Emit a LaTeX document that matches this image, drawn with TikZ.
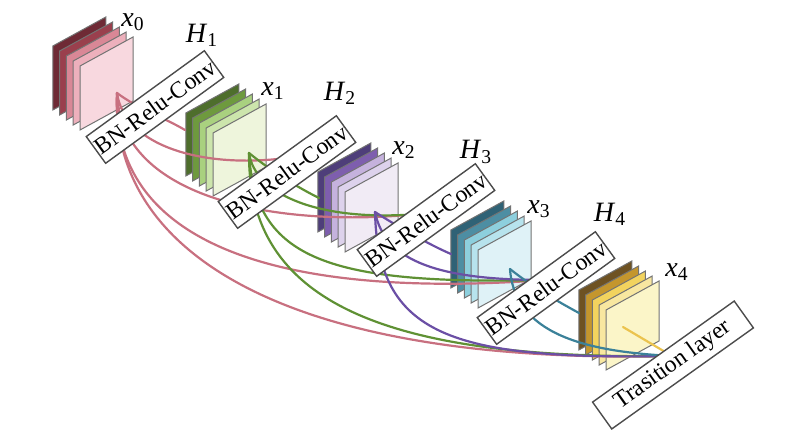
\documentclass[tikz,border=0pt]{standalone}
\usepackage{fontspec}
\setmainfont{Liberation Serif}
\usetikzlibrary{calc}

\definecolor{rs1}{HTML}{6E2A35}\definecolor{rs2}{HTML}{9A3F4D}\definecolor{rs3}{HTML}{D98796}\definecolor{rs4}{HTML}{EDB0BC}\definecolor{rs5}{HTML}{F8D8DF}
\definecolor{vd1}{HTML}{4E6E2C}\definecolor{vd2}{HTML}{6E9A3E}\definecolor{vd3}{HTML}{A9D17F}\definecolor{vd4}{HTML}{CCE5AC}\definecolor{vd5}{HTML}{EEF5DC}
\definecolor{rx1}{HTML}{4E3E7A}\definecolor{rx2}{HTML}{7E5EAE}\definecolor{rx3}{HTML}{C5B2DD}\definecolor{rx4}{HTML}{DDD2EC}\definecolor{rx5}{HTML}{F1EBF5}
\definecolor{az1}{HTML}{2F6276}\definecolor{az2}{HTML}{4D8EA3}\definecolor{az3}{HTML}{8DCFDD}\definecolor{az4}{HTML}{B7E3ED}\definecolor{az5}{HTML}{DFF2F7}
\definecolor{ou1}{HTML}{6E5222}\definecolor{ou2}{HTML}{C4962D}\definecolor{ou3}{HTML}{F2D35E}\definecolor{ou4}{HTML}{F8E7A0}\definecolor{ou5}{HTML}{FBF5C8}
\definecolor{lrosa}{HTML}{C87080}\definecolor{lverde}{HTML}{5F9134}\definecolor{lroxo}{HTML}{6B4FA5}
\definecolor{lazul}{HTML}{3B8199}\definecolor{louro}{HTML}{EBC34E}

% pilha de mapas: nome, canto, altura, cores de tras para frente
\newcommand{\pilha}[8]{%
  \foreach \k/\c in {4/#4,3/#5,2/#6,1/#7,0/#8}
    \filldraw[folha,fill=\c] ($(#2)-(6.8*\k,5*\k)$) -- ++(53,-29) -- ++(0,#3) -- ++(-53,29) -- cycle;
  \coordinate (#1) at (#2);
}

\begin{document}
\begin{tikzpicture}[x=0.5pt,y=-0.5pt,
  folha/.style={draw=black!55,line width=0.5pt},
  caixa/.style={draw=black!70,fill=white,line width=0.7pt,minimum width=73pt,minimum height=16.5pt,inner sep=0pt,font=\fontsize{11.8}{13}\selectfont},
  rotulo/.style={inner sep=0pt,font=\fontsize{14}{16}\selectfont},
  liga/.style={line width=1.1pt,line cap=round},
  rosa/.style={liga,draw=lrosa}, verde/.style={liga,draw=lverde}, roxo/.style={liga,draw=lroxo},
  azul/.style={liga,draw=lazul}, ouro/.style={liga,draw=louro}]
  \useasboundingbox (0,0) rectangle (800,435);
  % Nodes
  \pilha{x0}{80,66}{64}{rs1}{rs2}{rs3}{rs4}{rs5}
  \pilha{x1}{213,133}{63}{vd1}{vd2}{vd3}{vd4}{vd5}
  \pilha{x2}{345,192}{60}{rx1}{rx2}{rx3}{rx4}{rx5}
  \pilha{x3}{478,250}{58}{az1}{az2}{az3}{az4}{az5}
  \pilha{x4}{606,310}{60}{ou1}{ou2}{ou3}{ou4}{ou5}
  \coordinate (a0) at (117,93);
  \coordinate (a1) at (249,153);
  \coordinate (a2) at (375,212);
  \coordinate (a3) at (510,269);
  \coordinate (a4) at (623,327);
  \coordinate (b1) at (185,130);
  \coordinate (b2) at (319,198);
  \coordinate (b3) at (451,254);
  \coordinate (b4) at (579,313);
  \coordinate (e2) at (305,155);
  \coordinate (e3) at (418,214);
  \coordinate (e4) at (545,280);
  \coordinate (et) at (672,356);
  % Arestas
  \draw[rosa] (a0) .. controls (140,110) and (165,118) .. (b1);
  \draw[rosa] (a0) .. controls (125,150) and (215,172) .. (e2);
  \draw[rosa] (a0) .. controls (120,200) and (280,228) .. (e3);
  \draw[rosa] (a0) .. controls (110,240) and (270,300) .. (e4);
  \draw[rosa] (a0) .. controls (110,260) and (300,365) .. (et);
  \draw[verde] (a1) .. controls (270,170) and (295,186) .. (b2);
  \draw[verde] (a1) .. controls (255,195) and (320,222) .. (e3);
  \draw[verde] (a1) .. controls (255,260) and (330,285) .. (e4);
  \draw[verde] (a1) .. controls (248,300) and (380,360) .. (et);
  \draw[roxo] (a2) .. controls (400,228) and (430,245) .. (b3);
  \draw[roxo] (a2) .. controls (385,262) and (440,280) .. (e4);
  \draw[roxo] (a2) .. controls (378,335) and (450,360) .. (et);
  \draw[azul] (a3) .. controls (530,285) and (555,300) .. (b4);
  \draw[azul] (a3) .. controls (515,340) and (600,352) .. (et);
  \draw[ouro] (a4) -- (et);
  % Caixas
  \node[caixa,rotate=36] (h1) at (155,107) {BN-Relu-Conv};
  \node[caixa,rotate=36] (h2) at (287,172) {BN-Relu-Conv};
  \node[caixa,rotate=36] (h3) at (426,220) {BN-Relu-Conv};
  \node[caixa,rotate=36] (h4) at (546,288) {BN-Relu-Conv};
  \node[caixa,rotate=35.5,minimum width=87pt] (tr) at (673,365) {Trasition layer};
  \node[rotulo] (lx0) at (133,22) {\textit{x}\textsubscript{0}};
  \node[rotulo] (lx1) at (273,91) {\textit{x}\textsubscript{1}};
  \node[rotulo] (lx2) at (404,150) {\textit{x}\textsubscript{2}};
  \node[rotulo] (lx3) at (539,209) {\textit{x}\textsubscript{3}};
  \node[rotulo] (lx4) at (677,272) {\textit{x}\textsubscript{4}};
  \node[rotulo] (lh1) at (202,35) {\textit{H}\textsubscript{1}};
  \node[rotulo] (lh2) at (340,93) {\textit{H}\textsubscript{2}};
  \node[rotulo] (lh3) at (476,152) {\textit{H}\textsubscript{3}};
  \node[rotulo] (lh4) at (610,214) {\textit{H}\textsubscript{4}};
\end{tikzpicture}
\end{document}
